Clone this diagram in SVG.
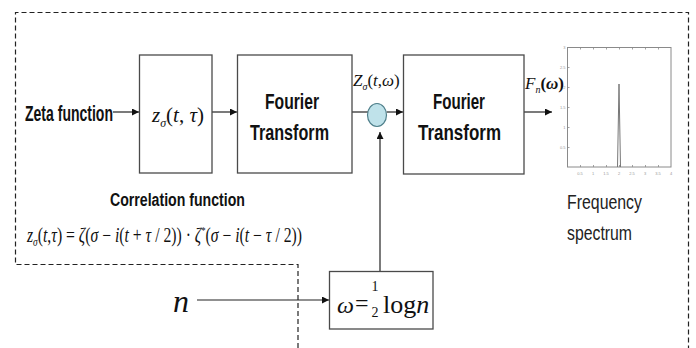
<svg xmlns="http://www.w3.org/2000/svg" width="696" height="348" viewBox="0 0 696 348">
<defs>
<marker id="ah" viewBox="0 0 10 10" refX="10" refY="5" markerWidth="7" markerHeight="7" markerUnits="userSpaceOnUse" orient="auto">
<path d="M0,0 L10,5 L0,10 z" fill="#111"/>
</marker>
<style>
.box{fill:#fff;stroke:#4a4a4a;stroke-width:1.3}
.lbl{font-family:"Liberation Sans",Arial,sans-serif;font-weight:bold;fill:#111}
.reg{font-family:"Liberation Sans",Arial,sans-serif;fill:#222}
.math{font-family:"Liberation Serif","Times New Roman",serif;fill:#111}
.it{font-style:italic}
.conn{stroke:#222;stroke-width:1.2;fill:none}
.tick{font-family:"Liberation Sans",Arial,sans-serif;font-size:4px;fill:#999}
.dash{fill:none;stroke:#222;stroke-width:1.2;stroke-dasharray:5 3}
</style>
</defs>
<rect width="696" height="348" fill="#fff"/>

<path class="dash" d="M298,348 V264.5 H15.5 V12.5 H688.5 V348"/>

<g id="connectors">
<line class="conn" x1="113" y1="112" x2="139" y2="112" marker-end="url(#ah)"/>
<line class="conn" x1="212" y1="112" x2="237" y2="112" marker-end="url(#ah)"/>
<line class="conn" x1="352" y1="112" x2="368" y2="112"/>
<line class="conn" x1="386.5" y1="112" x2="403" y2="112" marker-end="url(#ah)"/>
<line class="conn" x1="524" y1="112" x2="552" y2="112" marker-end="url(#ah)"/>
<line class="conn" x1="197" y1="300" x2="329" y2="300" marker-end="url(#ah)"/>
<line class="conn" x1="380" y1="271" x2="380" y2="132" marker-end="url(#ah)"/>
</g>

<g id="zeta-input">
<text class="lbl" x="25" y="121" font-size="22" textLength="88" lengthAdjust="spacingAndGlyphs">Zeta function</text>
</g>

<g id="correlation-box">
<rect class="box" x="139.5" y="55" width="72.5" height="118"/>
<text class="math" x="152" y="122" font-size="21"><tspan class="it">z</tspan><tspan font-size="12" dy="5" class="it">σ</tspan><tspan dy="-5">(</tspan><tspan class="it">t</tspan>, <tspan class="it">τ</tspan>)</text>
</g>

<g id="correlation-label">
<text class="lbl" x="110" y="206" font-size="18" textLength="135" lengthAdjust="spacingAndGlyphs">Correlation function</text>
<text class="math" x="27" y="242" font-size="20" textLength="275" lengthAdjust="spacingAndGlyphs"><tspan class="it">z</tspan><tspan font-size="12" dy="4" class="it">σ</tspan><tspan dy="-4">(</tspan><tspan class="it">t</tspan>,<tspan class="it">τ</tspan>) = <tspan class="it">ζ</tspan>(<tspan class="it">σ</tspan> − <tspan class="it">i</tspan>(<tspan class="it">t</tspan> + <tspan class="it">τ</tspan> / 2)) · <tspan class="it">ζ</tspan><tspan font-size="11" dy="-8">*</tspan><tspan dy="8">(</tspan><tspan class="it">σ</tspan> − <tspan class="it">i</tspan>(<tspan class="it">t</tspan> − <tspan class="it">τ</tspan> / 2))</text>
</g>

<g id="fourier1">
<rect class="box" x="237.5" y="55" width="114.5" height="118"/>
<text class="lbl" x="265" y="109" font-size="22" textLength="54" lengthAdjust="spacingAndGlyphs">Fourier</text>
<text class="lbl" x="250" y="140" font-size="22" textLength="79" lengthAdjust="spacingAndGlyphs">Transform</text>
</g>

<g id="multiplier">
<ellipse cx="377" cy="115" rx="9.5" ry="11.5" fill="#bfe2ea" stroke="#4f7f8a" stroke-width="1.2"/>
<text class="math" x="353" y="86" font-size="17"><tspan class="it">Z</tspan><tspan font-size="10" dy="4" class="it">σ</tspan><tspan dy="-4">(</tspan><tspan class="it">t</tspan>,<tspan class="it">ω</tspan>)</text>
</g>

<g id="fourier2">
<rect class="box" x="403.5" y="55" width="120.5" height="119"/>
<text class="lbl" x="433" y="109" font-size="22" textLength="52" lengthAdjust="spacingAndGlyphs">Fourier</text>
<text class="lbl" x="418" y="140" font-size="22" textLength="83" lengthAdjust="spacingAndGlyphs">Transform</text>
<text class="math" x="525" y="89" font-size="17"><tspan class="it">F</tspan><tspan font-size="10" dy="4" class="it">n</tspan><tspan dy="-4" font-weight="bold">(</tspan><tspan class="it" font-weight="bold">ω</tspan><tspan font-weight="bold">)</tspan></text>
</g>

<g id="spectrum">
<rect x="567.5" y="47.5" width="103.5" height="119.5" fill="#fff" stroke="#8a8a8a" stroke-width="1"/>
<path d="M580.5,47.5v2M593.5,47.5v2M606.5,47.5v2M619.5,47.5v2M632.5,47.5v2M645.5,47.5v2M658.5,47.5v2M580.5,167v-2M593.5,167v-2M606.5,167v-2M619.5,167v-2M632.5,167v-2M645.5,167v-2M658.5,167v-2M567.5,67.5h2M567.5,87.5h2M567.5,107.5h2M567.5,127.5h2M567.5,147.5h2" stroke="#8a8a8a" stroke-width="0.8" fill="none"/>
<polyline points="617.5,167 619,84 620.5,167" fill="none" stroke="#777" stroke-width="1"/>
<g class="tick" text-anchor="end">
<text x="565.5" y="49">3</text>
<text x="565.5" y="69">2.5</text>
<text x="565.5" y="89">2</text>
<text x="565.5" y="109">1.5</text>
<text x="565.5" y="129">1</text>
<text x="565.5" y="149">0.5</text>
</g>
<g class="tick" text-anchor="middle">
<text x="580" y="175">0.5</text>
<text x="593" y="175">1</text>
<text x="606" y="175">1.5</text>
<text x="619" y="175">2</text>
<text x="632" y="175">2.5</text>
<text x="645" y="175">3</text>
<text x="658" y="175">3.5</text>
<text x="671" y="175">4</text>
</g>
<text class="reg" x="567" y="209" font-size="20" textLength="75" lengthAdjust="spacingAndGlyphs">Frequency</text>
<text class="reg" x="567" y="240" font-size="20" textLength="65" lengthAdjust="spacingAndGlyphs">spectrum</text>
</g>

<g id="n-input">
<text class="math it" x="173" y="312" font-size="32">n</text>
</g>

<g id="omega-box">
<rect class="box" x="329.5" y="271.5" width="103.5" height="57.5"/>
<text class="math" x="337" y="313" font-size="24"><tspan class="it">ω</tspan></text>
<text class="math" x="355" y="311" font-size="24">=</text>
<text class="math" x="371.5" y="291" font-size="14">1</text>
<text class="math" x="371.5" y="317" font-size="14">2</text>
<text class="math" x="383" y="313" font-size="26">log<tspan class="it">n</tspan></text>
</g>
</svg>
